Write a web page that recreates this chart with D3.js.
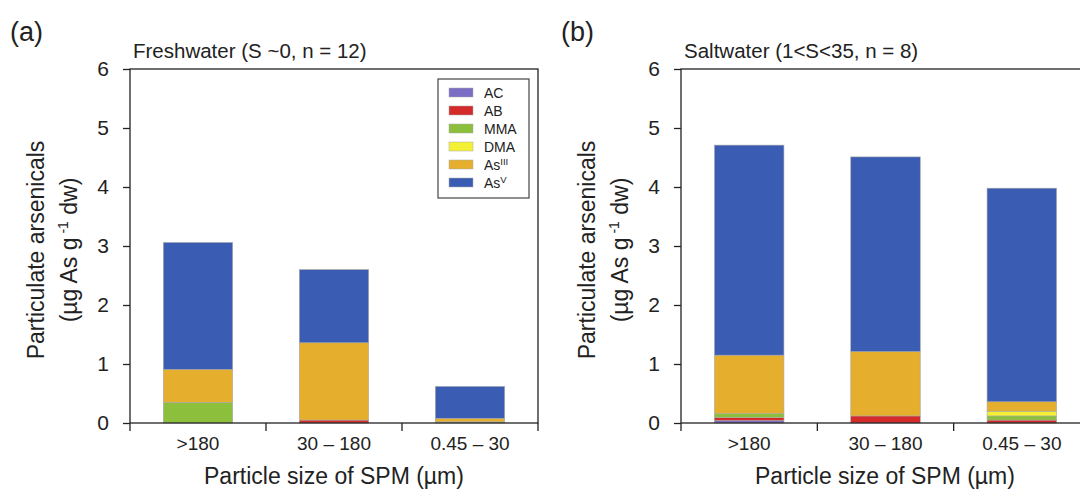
<!DOCTYPE html>
<html>
<head>
<meta charset="utf-8">
<script src="https://cdn.jsdelivr.net/npm/d3@7"></script>
<style>
    body { margin: 0; background: #fff; }
    svg { display: block; font-family: Arial, "Liberation Sans", sans-serif; }
</style>
</head>
<body>
<div id="chart"></div>
<script>
// Datos
const categories = ['>180', '30 – 180', '0.45 – 30'];
const species = ['AC', 'AB', 'MMA', 'DMA', 'AsIII', 'AsV'];
const speciesColors = ['#7b6cc4', '#d42a2a', '#8cc03c', '#f4f034', '#e5ae2c', '#3a5cb2'];
const yTicks = [0, 1, 2, 3, 4, 5, 6];

// Agua dulce (a), de abajo hacia arriba
const freshAC    = [0, 0, 0];
const freshAB    = [0, 0.05, 0.01];
const freshMMA   = [0.35, 0, 0.01];
const freshDMA   = [0, 0, 0];
const freshAsIII = [0.56, 1.31, 0.06];
const freshAsV   = [2.15, 1.24, 0.54];

// Agua salada (b)
const saltAC    = [0.04, 0, 0];
const saltAB    = [0.05, 0.12, 0.05];
const saltMMA   = [0.07, 0, 0.07];
const saltDMA   = [0, 0, 0.08];
const saltAsIII = [0.99, 1.09, 0.16];
const saltAsV   = [3.56, 3.30, 3.62];

const panels = [
    { tag: '(a)', title: 'Freshwater (S ~0, n = 12)', x0: 130, x1: 538, legend: true,
      series: [freshAC, freshAB, freshMMA, freshDMA, freshAsIII, freshAsV] },
    { tag: '(b)', title: 'Saltwater (1<S<35, n = 8)', x0: 681, x1: 1090, legend: false,
      series: [saltAC, saltAB, saltMMA, saltDMA, saltAsIII, saltAsV] }
];

const width = 1080, height = 490;
const yTop = 69, yBottom = 423;

const svg = d3.select('#chart').append('svg')
    .attr('width', width)
    .attr('height', height);

const y = d3.scaleLinear().domain([0, 6]).range([yBottom, yTop]);

panels.forEach(p => {
    const g = svg.append('g');

    const x = d3.scaleBand().domain(categories).range([p.x0, p.x1]).paddingInner(0.49).paddingOuter(0.245);

    // Apilar series
    const rows = categories.map((c, i) => {
        const r = { cat: c };
        species.forEach((s, k) => r[s] = p.series[k][i]);
        return r;
    });
    const stacked = d3.stack().keys(species)(rows);

    g.selectAll('g.layer')
        .data(stacked)
        .enter().append('g')
        .attr('class', 'layer')
        .attr('fill', (d, k) => speciesColors[k])
        .selectAll('rect')
        .data(d => d.filter(v => v[1] - v[0] > 0))
        .enter().append('rect')
        .attr('x', d => x(d.data.cat))
        .attr('width', x.bandwidth())
        .attr('y', d => y(d[1]))
        .attr('height', d => y(d[0]) - y(d[1]))
        .attr('stroke', '#a9a9a9')
        .attr('stroke-width', 0.6);

    // Marco
    g.append('rect')
        .attr('x', p.x0).attr('y', yTop)
        .attr('width', p.x1 - p.x0).attr('height', yBottom - yTop)
        .attr('fill', 'none').attr('stroke', '#222').attr('stroke-width', 1.3);

    // Eje Y
    const yAxis = g.append('g')
        .attr('transform', `translate(${p.x0},0)`)
        .call(d3.axisLeft(y).tickValues(yTicks).tickSize(7).tickPadding(14).tickFormat(d3.format('d')));
    yAxis.select('.domain').remove();
    yAxis.selectAll('line').attr('stroke', '#222').attr('stroke-width', 1.3);
    yAxis.selectAll('text').attr('font-size', 21).attr('fill', '#222').attr('font-family', 'Arial, "Liberation Sans", sans-serif');

    // Eje X: marcas en los limites de las categorias
    const xAxis = g.append('g')
        .attr('transform', `translate(0,${yBottom})`)
        .call(d3.axisBottom(x).tickSize(0).tickPadding(14));
    xAxis.select('.domain').remove();
    xAxis.selectAll('text').attr('font-size', 19).attr('fill', '#222').attr('font-family', 'Arial, "Liberation Sans", sans-serif');
    const step = x.step();
    g.selectAll('line.xtick')
        .data(d3.range(categories.length + 1))
        .enter().append('line')
        .attr('class', 'xtick')
        .attr('x1', i => p.x0 + i * step).attr('x2', i => p.x0 + i * step)
        .attr('y1', yBottom).attr('y2', yBottom + 8)
        .attr('stroke', '#222').attr('stroke-width', 1.3);

    // Titulos
    g.append('text')
        .attr('x', p.x0 - 120).attr('y', 41)
        .attr('font-size', 27).attr('fill', '#222')
        .text(p.tag);
    g.append('text')
        .attr('x', p.x0 + 3).attr('y', 58)
        .attr('font-size', 20.5).attr('fill', '#222')
        .text(p.title);
    g.append('text')
        .attr('x', (p.x0 + p.x0 + 3 * 136) / 2).attr('y', 484)
        .attr('text-anchor', 'middle')
        .attr('font-size', 23).attr('fill', '#222')
        .text('Particle size of SPM (µm)');

    const yc = 250;
    g.append('text')
        .attr('transform', `translate(${p.x0 - 86},${yc}) rotate(-90)`)
        .attr('text-anchor', 'middle')
        .attr('font-size', 23).attr('fill', '#222')
        .text('Particulate arsenicals');
    const yl2 = g.append('text')
        .attr('transform', `translate(${p.x0 - 53},${yc}) rotate(-90)`)
        .attr('text-anchor', 'middle')
        .attr('font-size', 23).attr('fill', '#222');
    yl2.append('tspan').text('(µg As g');
    yl2.append('tspan').attr('font-size', 14).attr('dy', -9).text(' -1');
    yl2.append('tspan').attr('dy', 9).text(' dw)');

    // Leyenda
    if (p.legend) {
        const lg = g.append('g').attr('transform', 'translate(438,79)');
        lg.append('rect')
            .attr('width', 91).attr('height', 119)
            .attr('fill', '#fff').attr('stroke', '#444').attr('stroke-width', 1.2);
        const item = lg.selectAll('g.item')
            .data(species)
            .enter().append('g')
            .attr('class', 'item')
            .attr('transform', (d, i) => `translate(11,${9 + i * 18})`);
        item.append('rect')
            .attr('width', 24).attr('height', 9)
            .attr('fill', (d, i) => speciesColors[i])
            .attr('stroke', '#aaa').attr('stroke-width', 0.5);
        const lt = item.append('text')
            .attr('x', 35).attr('y', 9.5)
            .attr('font-size', 14).attr('fill', '#222');
        lt.each(function(d) {
            const t = d3.select(this);
            if (d.startsWith('As')) {
                t.append('tspan').text('As');
                t.append('tspan').attr('font-size', 9.5).attr('dy', -5).text(d.slice(2));
            } else {
                t.text(d);
            }
        });
    }
});
</script>
</body>
</html>
